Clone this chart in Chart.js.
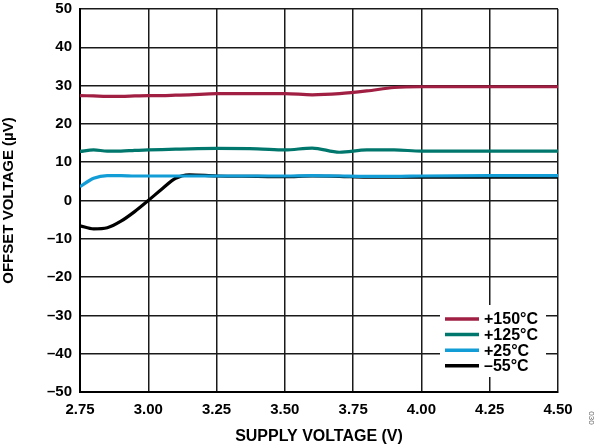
<!DOCTYPE html>
<html>
<head>
<meta charset="utf-8">
<script src="https://cdn.jsdelivr.net/npm/chart.js@4"></script>
<style>
  html, body { margin: 0; padding: 0; background: #fff; }
  #wrap { width: 596px; height: 446px; }
</style>
</head>
<body>
<div id="wrap"><canvas id="offsetChart" width="596" height="446"></canvas></div>
<script>
// supply voltage (V)
const supplyV = [2.75, 2.80, 2.85, 2.90, 2.95, 3.00, 3.05, 3.10, 3.15, 3.25, 3.40, 3.50, 3.60, 3.70, 3.80, 3.90, 4.00, 4.25, 4.50];
// offset voltage (µV) per temperature
const t150 = [27.4, 27.3, 27.2, 27.2, 27.3, 27.4, 27.4, 27.5, 27.6, 27.9, 27.9, 27.9, 27.6, 27.9, 28.6, 29.5, 29.7, 29.7, 29.7];
const t125 = [12.8, 13.2, 12.9, 12.9, 13.1, 13.2, 13.3, 13.4, 13.5, 13.6, 13.5, 13.2, 13.7, 12.6, 13.2, 13.2, 12.9, 12.9, 12.9];
const t25  = [3.6, 5.8, 6.5, 6.5, 6.4, 6.4, 6.4, 6.4, 6.4, 6.4, 6.4, 6.4, 6.5, 6.4, 6.3, 6.3, 6.4, 6.5, 6.5];
const tm55 = [-6.6, -7.4, -7.1, -5.4, -2.9, 0, 3.0, 5.8, 6.7, 6.4, 6.3, 6.2, 6.4, 6.3, 6.1, 6.1, 6.1, 6.1, 6.1];

const seriesLabels = ['+150°C', '+125°C', '+25°C', '–55°C'];
const seriesData = [t150, t125, t25, tm55];
const colors = ['#A11F42', '#00776C', '#129DD6', '#000000'];

function createDataset(i) {
    return {
        label: seriesLabels[i],
        data: supplyV.map((v, k) => ({ x: v, y: seriesData[i][k] })),
        borderColor: colors[i],
        backgroundColor: colors[i],
        borderWidth: 3.2,
        pointRadius: 0,
        cubicInterpolationMode: 'monotone',
        fill: false
    };
}

const FONT = "'Liberation Sans', Arial, sans-serif";

// legend drawn inside the plot, bottom right, on a white box
const insideLegend = {
    id: 'insideLegend',
    afterDatasetsDraw(chart) {
        const ctx = chart.ctx;
        ctx.save();
        ctx.fillStyle = '#fff';
        ctx.fillRect(440, 305, 106, 72);
        ctx.font = 'bold 16px ' + FONT;
        ctx.textBaseline = 'middle';
        chart.data.datasets.forEach((ds, i) => {
            const y = 319 + i * 15.6;
            ctx.strokeStyle = ds.borderColor;
            ctx.lineWidth = 3.5;
            ctx.beginPath();
            ctx.moveTo(445, y);
            ctx.lineTo(479, y);
            ctx.stroke();
            ctx.fillStyle = '#000';
            ctx.fillText(ds.label, 484, y + 1);
        });
        // figure id at the right edge
        ctx.translate(591, 418);
        ctx.rotate(Math.PI / 2);
        ctx.font = '8px ' + FONT;
        ctx.fillStyle = '#666';
        ctx.textAlign = 'center';
        ctx.fillText('030', 0, 0);
        ctx.restore();
    }
};

const ctx = document.getElementById('offsetChart').getContext('2d');
const config = {
    type: 'line',
    data: {
        datasets: seriesLabels.map((_, i) => createDataset(i))
    },
    options: {
        responsive: false,
        animation: false,
        layout: { padding: { top: 0, right: 38, left: 0, bottom: 0 } },
        plugins: {
            legend: { display: false },
            tooltip: { enabled: false }
        },
        scales: {
            x: {
                type: 'linear',
                min: 2.75,
                max: 4.5,
                afterFit: s => { s.height = 54; },
                ticks: {
                    stepSize: 0.25,
                    padding: 9,
                    color: '#000',
                    font: { family: FONT, size: 15, weight: 'bold' },
                    callback: v => v.toFixed(2)
                },
                grid: { color: '#1a1a1a', lineWidth: 1.5, drawTicks: false },
                border: { color: '#000', width: 2 },
                title: {
                    display: true,
                    text: 'SUPPLY VOLTAGE (V)',
                    color: '#000',
                    font: { family: FONT, size: 16, weight: 'bold' },
                    padding: { top: 2, bottom: 0 }
                }
            },
            y: {
                min: -50,
                max: 50,
                afterFit: s => { s.width = 80; },
                ticks: {
                    stepSize: 10,
                    padding: 0,
                    color: '#000',
                    font: { family: FONT, size: 15, weight: 'bold' },
                    callback: v => v < 0 ? '–' + Math.abs(v) : String(v)
                },
                grid: { color: '#1a1a1a', lineWidth: 1.5, drawTicks: true, tickLength: 8, tickColor: 'rgba(0,0,0,0)' },
                border: { color: '#000', width: 2 },
                title: {
                    display: true,
                    text: 'OFFSET VOLTAGE (µV)',
                    color: '#000',
                    font: { family: FONT, size: 15, weight: 'bold' },
                    padding: { top: 0, bottom: 0 }
                }
            }
        }
    },
    plugins: [insideLegend]
};

const offsetChart = new Chart(ctx, config);
</script>
</body>
</html>
